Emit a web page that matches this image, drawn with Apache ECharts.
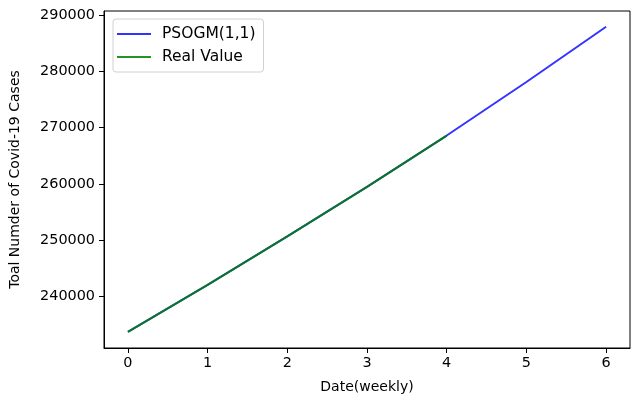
<!DOCTYPE html>
<html>
<head>
<meta charset="utf-8">
<script src="https://cdn.jsdelivr.net/npm/echarts@6/dist/echarts.min.js"></script>
<style>
  html, body { margin: 0; padding: 0; background: #fff; }
  #chart { width: 631px; height: 399px; }
</style>
</head>
<body>
<div id="chart"></div>
<script>
// 數據
const weeks = [0, 1, 2, 3, 4, 5, 6];
const psogm = [233780, 242100, 250700, 259500, 268600, 278100, 287900];
const realValue = [233780, 242100, 250700, 259500, 268600];
const xTicks = [0, 1, 2, 3, 4, 5, 6];
const yTicks = [240000, 250000, 260000, 270000, 280000, 290000];

const font = 'DejaVu Sans';
const chart = echarts.init(document.getElementById('chart'));

chart.setOption({
    animation: false,
    grid: {
        left: 104, right: 1, top: 11, bottom: 48,
        show: true, borderColor: '#000', borderWidth: 1
    },
    legend: {
        orient: 'vertical',
        left: 113, top: 19,
        icon: 'rect',
        itemWidth: 34, itemHeight: 2, itemGap: 7,
        padding: [7, 8, 7, 4],
        backgroundColor: '#fff',
        borderColor: '#d0d0d0', borderWidth: 1, borderRadius: 3,
        textStyle: { fontFamily: font, fontSize: 15.5, color: '#000', padding: [0, 0, 0, 6] },
        data: ['PSOGM(1,1)', 'Real Value']
    },
    xAxis: {
        type: 'value',
        min: -0.3, max: 6.3,
        name: 'Date(weekly)',
        nameLocation: 'middle', nameGap: 32,
        nameTextStyle: { fontFamily: font, fontSize: 14, color: '#000' },
        axisLine: { onZero: false, lineStyle: { color: '#000', width: 1 } },
        axisTick: { length: 5, lineStyle: { color: '#000' }, customValues: xTicks },
        axisLabel: { fontFamily: font, fontSize: 14.4, color: '#000', margin: 8, customValues: xTicks },
        splitLine: { show: false }
    },
    yAxis: {
        type: 'value',
        min: 230900, max: 290700,
        name: 'Toal Numder of Covid-19 Cases',
        nameLocation: 'middle', nameGap: 82,
        nameTextStyle: { fontFamily: font, fontSize: 14, color: '#000' },
        axisLine: { show: true, onZero: false, lineStyle: { color: '#000', width: 1 } },
        axisTick: { show: true, length: 5, lineStyle: { color: '#000' }, customValues: yTicks },
        axisLabel: {
            fontFamily: font, fontSize: 14.4, color: '#000', margin: 9,
            customValues: yTicks, formatter: v => String(v)
        },
        splitLine: { show: false }
    },
    series: [
        {
            name: 'PSOGM(1,1)',
            type: 'line',
            data: weeks.map((w, i) => [w, psogm[i]]),
            showSymbol: false, symbol: 'none',
            color: 'rgba(0,0,255,0.8)',
            lineStyle: { width: 2, color: 'rgba(0,0,255,0.8)' }
        },
        {
            name: 'Real Value',
            type: 'line',
            data: realValue.map((v, i) => [weeks[i], v]),
            showSymbol: false, symbol: 'none',
            color: 'rgba(0,128,0,0.85)',
            lineStyle: { width: 2, color: 'rgba(0,128,0,0.85)' }
        }
    ]
});
</script>
</body>
</html>
